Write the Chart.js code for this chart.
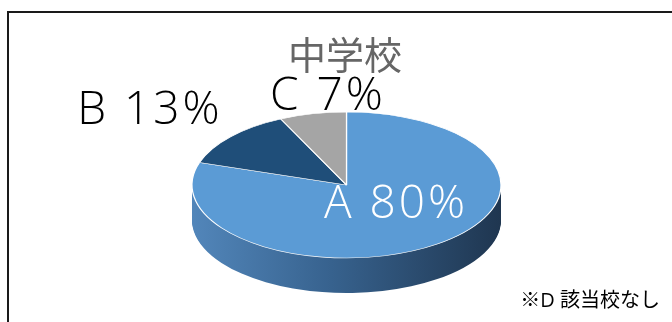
<!DOCTYPE html>
<html>
<head>
<meta charset="utf-8">
<script src="https://cdn.jsdelivr.net/npm/chart.js@4.4.1/dist/chart.umd.min.js"></script>
<style>
  html, body { margin: 0; padding: 0; background: #fff; overflow: hidden; }
  canvas { display: block; }
</style>
</head>
<body>
<canvas id="pieChart" width="672" height="322"></canvas>
<script>
// chart data
const categories = ["A", "B", "C"];
const shares = [80, 13, 7];
const sliceColors = ["#5b9bd5", "#1f4e79", "#a5a5a5"];
const sideColors = ["#3a6591", "#173a5a", "#7c7c7c"];
const chartTitle = "中学校";
const footNote = "※D 該当校なし";

// where the flattened pie sits on screen
const pieBox = { cx: 346.5, cy: 185, rx: 154.5, ry: 73, depth: 35 };
// label placement (centre x, baseline y)
const labelPos = [
  { x: 396, y: 218, color: "#ffffff" },
  { x: 150, y: 124, color: "#000000" },
  { x: 328, y: 110, color: "#000000" }
];
const textFont = '"Open Sans", "Noto Sans CJK JP", sans-serif';

const pie3d = {
  id: "pie3d",
  beforeDraw(chart) {
    const ctx = chart.ctx;
    ctx.save();
    ctx.strokeStyle = "#1a1a1a";
    ctx.lineWidth = 2;
    ctx.strokeRect(8, 12, 720, 400);
    ctx.restore();
  },
  beforeDatasetsDraw(chart) {
    const ctx = chart.ctx;
    const arcs = chart.getDatasetMeta(0).data;
    const r0 = arcs[0].outerRadius;
    const sx = pieBox.rx / r0;
    const sy = pieBox.ry / r0;
    const ox = arcs[0].x, oy = arcs[0].y;

    ctx.save();
    ctx.translate(pieBox.cx, pieBox.cy);
    ctx.scale(sx, sy);
    ctx.translate(-ox, -oy);

    // side of the disc, gradient left (light) to right (dark)
    const grad = ctx.createLinearGradient(ox - r0, 0, ox + r0, 0);
    grad.addColorStop(0, "#5286ba");
    grad.addColorStop(0.45, "#37628e");
    grad.addColorStop(1, "#1f3650");

    for (let d = pieBox.depth; d >= 1; d--) {
      ctx.save();
      ctx.translate(0, d / sy);
      arcs.forEach((arc, i) => {
        const keep = arc.options;
        arc.options = Object.assign({}, keep, {
          backgroundColor: i === 0 ? grad : sideColors[i],
          borderWidth: 0
        });
        arc.draw(ctx);
        arc.options = keep;
      });
      ctx.restore();
    }
    // top face
    arcs.forEach(arc => arc.draw(ctx));
    ctx.restore();
    return false;
  },
  afterDraw(chart) {
    const ctx = chart.ctx;
    ctx.save();
    ctx.font = "350 46px " + textFont;
    ctx.letterSpacing = "3px";
    ctx.textAlign = "center";
    ctx.textBaseline = "alphabetic";
    categories.forEach((c, i) => {
      ctx.fillStyle = labelPos[i].color;
      ctx.fillText(c + " " + shares[i] + "%", labelPos[i].x, labelPos[i].y);
    });
    ctx.letterSpacing = "0px";
    ctx.font = "20px " + textFont;
    ctx.fillStyle = "#000000";
    ctx.textAlign = "right";
    ctx.fillText(footNote, 660, 307);
    ctx.restore();
  }
};

new Chart(document.getElementById("pieChart"), {
  type: "pie",
  data: {
    labels: categories,
    datasets: [{
      data: shares,
      backgroundColor: sliceColors,
      borderColor: "#ffffff",
      borderWidth: 1
    }]
  },
  options: {
    responsive: false,
    animation: false,
    layout: { padding: { left: 18, top: 0, right: 0, bottom: 0 } },
    plugins: {
      legend: { display: false },
      tooltip: { enabled: false },
      title: {
        display: true,
        text: chartTitle,
        color: "#666666",
        font: { family: '"Noto Sans CJK JP", sans-serif', size: 38, weight: "normal" },
        padding: { top: 32, bottom: 0 }
      }
    }
  },
  plugins: [pie3d]
});
</script>
</body>
</html>
